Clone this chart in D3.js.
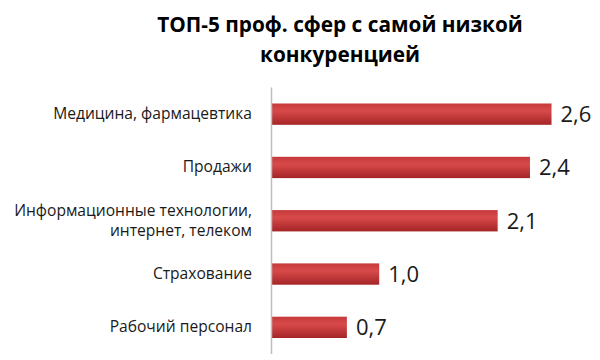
<!DOCTYPE html>
<html>
<head>
<meta charset="utf-8">
<script src="https://cdn.jsdelivr.net/npm/d3@7"></script>
<style>
  body { margin: 0; background: #fff; }
  text { font-family: "Open Sans", sans-serif; }
</style>
</head>
<body>
<script>
// chart data
var titleLines = ['ТОП-5 проф. сфер с самой низкой', 'конкуренцией'];
var categories = [
    ['Медицина, фармацевтика'],
    ['Продажи'],
    ['Информационные технологии,', 'интернет, телеком'],
    ['Страхование'],
    ['Рабочий персонал']
];
var values = [2.6, 2.4, 2.1, 1.0, 0.7];
var valueLabels = ['2,6', '2,4', '2,1', '1,0', '0,7'];

var svgWidth = 600;
var svgHeight = 360;

var svg = d3.select('body')
    .append('svg')
    .attr('width', svgWidth)
    .attr('height', svgHeight);

var defs = svg.append('defs');
var grad = defs.append('linearGradient')
    .attr('id', 'barGrad')
    .attr('x1', 0).attr('y1', 0).attr('x2', 0).attr('y2', 1);
grad.append('stop').attr('offset', '0%').attr('stop-color', '#c63a3c');
grad.append('stop').attr('offset', '35%').attr('stop-color', '#d84a4a');
grad.append('stop').attr('offset', '100%').attr('stop-color', '#a42426');

//title
svg.append('g')
    .selectAll('text')
    .data(titleLines)
    .enter()
    .append('text')
    .attr('x', 340)
    .attr('y', function(d, i) { return 32 + i * 30; })
    .attr('text-anchor', 'middle')
    .style('font-size', '20.8px')
    .style('font-weight', 'bold')
    .style('fill', '#000')
    .text(function(d) { return d; });

var x0 = 271.5;
var xScale = d3.scaleLinear().domain([0, 1]).range([x0, x0 + 107.7]);

var yScale = d3.scaleBand()
    .domain(d3.range(values.length))
    .range([87.5, 354])
    .paddingInner(0.6)
    .paddingOuter(0.3);

var chart = svg.append('g');

// bars
chart.selectAll('rect.bar')
    .data(values)
    .enter()
    .append('rect')
    .attr('class', 'bar')
    .attr('x', xScale(0))
    .attr('y', function(d, i) { return yScale(i); })
    .attr('width', function(d) { return xScale(d) - xScale(0); })
    .attr('height', yScale.bandwidth())
    .attr('fill', 'url(#barGrad)');

// axis line
chart.append('line')
    .attr('x1', x0).attr('x2', x0)
    .attr('y1', 87.5).attr('y2', 354)
    .attr('stroke', '#bdbdbd')
    .attr('stroke-width', 1.5);

// value labels
chart.selectAll('text.value')
    .data(values)
    .enter()
    .append('text')
    .attr('class', 'value')
    .attr('x', function(d) { return xScale(d) + 9; })
    .attr('y', function(d, i) { return yScale(i) + yScale.bandwidth() / 2; })
    .attr('dy', '0.36em')
    .style('font-size', '22px')
    .style('fill', '#1a1a1a')
    .text(function(d, i) { return valueLabels[i]; });

// category labels, each line its own text so they do not collide
var catLines = [];
categories.forEach(function(lines, i) {
    lines.forEach(function(line, j) {
        catLines.push({line: line, i: i, j: j, n: lines.length});
    });
});

chart.selectAll('text.cat')
    .data(catLines)
    .enter()
    .append('text')
    .attr('class', 'cat')
    .attr('text-anchor', 'end')
    .attr('x', 252)
    .attr('y', function(d) {
        var c = yScale(d.i) + yScale.bandwidth() / 2;
        return c + 5 + (d.j - (d.n - 1) / 2) * 20;
    })
    .style('font-size', '15.6px')
    .style('fill', '#1a1a1a')
    .text(function(d) { return d.line; });
</script>
</body>
</html>
